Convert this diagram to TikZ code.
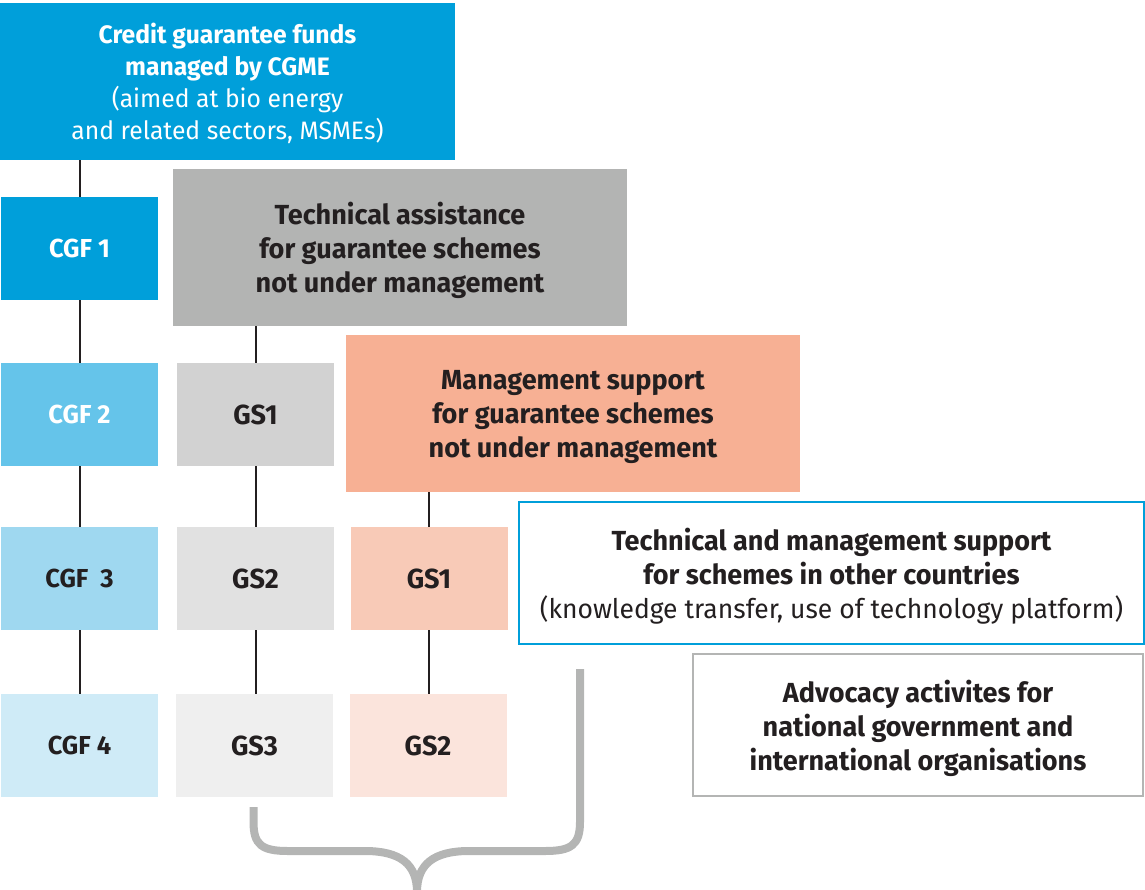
\documentclass[tikz,border=0pt]{standalone}
\usepackage{fontspec}
\setmainfont{Fira Sans}[FakeStretch=0.98]
\usepackage{tikz}
\definecolor{cgme}{HTML}{009FDA}
\definecolor{cgfb}{HTML}{65C4EA}
\definecolor{cgfc}{HTML}{9FD8F0}
\definecolor{cgfd}{HTML}{CFEBF7}
\definecolor{taga}{HTML}{B3B4B3}
\definecolor{tagb}{HTML}{D2D2D2}
\definecolor{tagc}{HTML}{E1E1E1}
\definecolor{tagd}{HTML}{EFEFEF}
\definecolor{msa}{HTML}{F7B094}
\definecolor{msb}{HTML}{F8CAB7}
\definecolor{msc}{HTML}{FBE4DC}
\definecolor{ink}{HTML}{231F20}
\definecolor{bracegray}{HTML}{B4B5B4}
\tikzset{bag/.style={rectangle, inner sep=0pt, align=center, text=ink,
		font=\fontsize{13.8pt}{17pt}\selectfont\bfseries},
	big/.style={bag, minimum width=227pt, minimum height=78.5pt, text depth=-1.5pt},
	small/.style={bag, minimum width=78.5pt, minimum height=51.5pt},
	cgf/.style={small, font=\fontsize{13pt}{17pt}\selectfont\bfseries},
	wide/.style={bag, minimum height=71pt, line width=1pt, text depth=0pt}}

\begin{document}
\begin{tikzpicture}[x=0.5pt, y=-0.5pt]
	\useasboundingbox (0,0) rectangle (1145,889);
	% credit guarantee funds
	\node[big, fill=cgme, text=white, minimum width=227.5pt, text depth=0pt,
		font=\fontsize{12.6pt}{16pt}\selectfont] (cgme) at (227.5,81.5)
		{\textbf{Credit guarantee funds}\\ \textbf{managed by CGME}\\
		(aimed at bio energy\\ and related sectors, MSMEs)};
	\node[cgf, fill=cgme, text=white] (cgf1) at (79.5,248.5) {CGF 1};
	\node[cgf, fill=cgfb, text=white] (cgf2) at (79.5,414.5) {CGF 2};
	\node[cgf, fill=cgfc] (cgf3) at (79.5,578.5) {CGF\ \ 3};
	\node[cgf, fill=cgfd] (cgf4) at (79.5,745.5) {CGF 4};
	% technical assistance
	\node[big, fill=taga] (ta) at (400,247.5)
		{Technical assistance\\ for guarantee schemes\\ not under management};
	\node[small, fill=tagb] (tags1) at (255.5,414.5) {GS1};
	\node[small, fill=tagc] (tags2) at (255.5,578.5) {GS2};
	\node[small, fill=tagd] (tags3) at (254.5,745.5) {GS3};
	% management support
	\node[big, fill=msa] (ms) at (573,413.5)
		{Management support\\ for guarantee schemes\\ not under management};
	\node[small, fill=msb] (msgs1) at (429,578.5) {GS1};
	\node[small, fill=msc] (msgs2) at (428,745.5) {GS2};
	% other countries, advocacy
	\node[wide, draw=cgme, minimum width=312.5pt] (other) at (831.5,573)
		{Technical and management support\\ for schemes in other countries\\
		\fontsize{13.5pt}{17pt}\selectfont\mdseries(knowledge transfer, use of technology platform)};
	\node[wide, draw=bracegray, minimum width=225pt] (adv) at (918,725)
		{Advocacy activites for\\ national government and\\ international organisations};
	% connectors
	\begin{scope}[draw=ink, line width=1pt]
		\draw (cgme.south -| cgf1) -- (cgf1);
		\draw (cgf1) -- (cgf2);
		\draw (cgf2) -- (cgf3);
		\draw (cgf3) -- (cgf4);
		\draw (ta.south -| tags1) -- (tags1);
		\draw (tags1) -- (tags2);
		\draw (tags2) -- (tags3.north -| tags2);
		\draw (ms.south -| msgs1) -- (msgs1);
		\draw (msgs1) -- (msgs2.north -| msgs1);
	\end{scope}
	% brace
	\draw[bracegray, line width=4pt]
		(253.5,807) -- (253.5,822) .. controls (253.5,845) and (262,851) .. (288,851)
		-- (365,851) .. controls (400,851) and (417,864) .. (417,892);
	\draw[bracegray, line width=4pt]
		(580,669) -- (580,822) .. controls (580,845) and (571,851) .. (545,851)
		-- (469,851) .. controls (434,851) and (417,864) .. (417,892);
\end{tikzpicture}
\end{document}
